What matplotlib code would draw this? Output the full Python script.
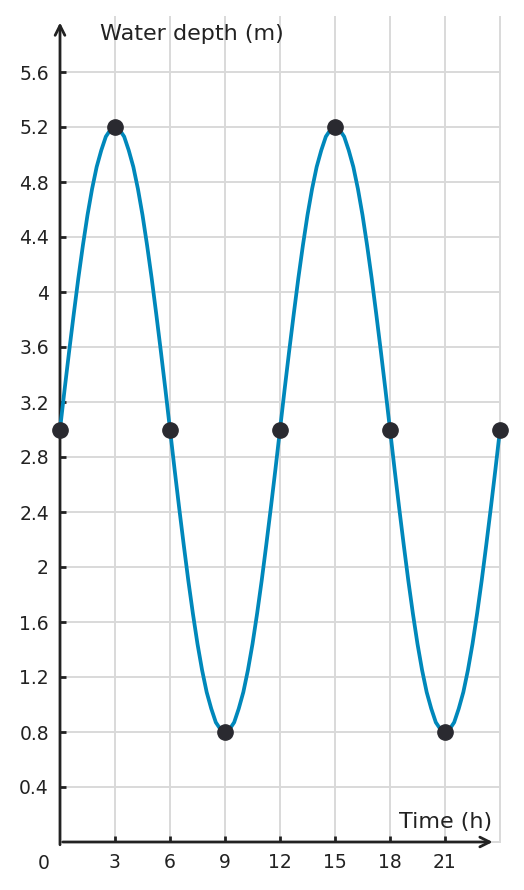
import matplotlib.pyplot as plt

# water depth every quarter hour
t_curve = [i * 0.25 for i in range(97)]
depth_curve = [3.0, 3.29, 3.57, 3.84, 4.10, 4.34, 4.56, 4.75, 4.91, 5.03, 5.13, 5.18,
               5.2, 5.18, 5.13, 5.03, 4.91, 4.75, 4.56, 4.34, 4.10, 3.84, 3.57, 3.29,
               3.0, 2.71, 2.43, 2.16, 1.90, 1.66, 1.44, 1.25, 1.09, 0.97, 0.87, 0.82,
               0.8, 0.82, 0.87, 0.97, 1.09, 1.25, 1.44, 1.66, 1.90, 2.16, 2.43, 2.71,
               3.0, 3.29, 3.57, 3.84, 4.10, 4.34, 4.56, 4.75, 4.91, 5.03, 5.13, 5.18,
               5.2, 5.18, 5.13, 5.03, 4.91, 4.75, 4.56, 4.34, 4.10, 3.84, 3.57, 3.29,
               3.0, 2.71, 2.43, 2.16, 1.90, 1.66, 1.44, 1.25, 1.09, 0.97, 0.87, 0.82,
               0.8, 0.82, 0.87, 0.97, 1.09, 1.25, 1.44, 1.66, 1.90, 2.16, 2.43, 2.71,
               3.0]

# marked points
t_points = [0, 3, 6, 9, 12, 15, 18, 21, 24]
depth_points = [3.0, 5.2, 3.0, 0.8, 3.0, 5.2, 3.0, 0.8, 3.0]

x_ticks = [3, 6, 9, 12, 15, 18, 21]
y_ticks = [0.4, 0.8, 1.2, 1.6, 2, 2.4, 2.8, 3.2, 3.6, 4, 4.4, 4.8, 5.2, 5.6]
y_labels = ["0.4", "0.8", "1.2", "1.6", "2", "2.4", "2.8", "3.2", "3.6", "4", "4.4", "4.8", "5.2", "5.6"]

txt = "#222222"
fig = plt.figure(figsize=(5.24, 8.9), dpi=100)
ax = fig.add_axes([60/524, 48/890, 440/524, 825/890])
ax.set_xlim(0, 24)
ax.set_ylim(0, 6)

# grid
for x in x_ticks + [24]:
    ax.plot([x, x], [0, 6], color="#d9d9d9", lw=1.4, zorder=0, clip_on=False)
for y in y_ticks + [0]:
    ax.plot([0, 24], [y, y], color="#d9d9d9", lw=1.4, zorder=0, clip_on=False)

for s in ax.spines.values():
    s.set_visible(False)

# axes with arrows
ax.annotate("", xy=(23.6, 0), xytext=(0.15, 0),
            arrowprops=dict(arrowstyle="->,head_length=0.7,head_width=0.35", lw=2, color=txt, shrinkA=0, shrinkB=0),
            annotation_clip=False)
ax.annotate("", xy=(0, 5.96), xytext=(0, -0.02),
            arrowprops=dict(arrowstyle="->,head_length=0.7,head_width=0.35", lw=2, color=txt, shrinkA=0, shrinkB=0),
            annotation_clip=False)

ax.set_xticks(x_ticks)
ax.set_yticks(y_ticks)
ax.set_yticklabels(y_labels)
ax.tick_params(axis="both", direction="in", length=4, width=2, colors=txt, labelsize=13.5, labelcolor=txt)
ax.tick_params(axis="x", pad=8)
ax.tick_params(axis="y", pad=8)
ax.text(-0.9, -0.09, "0", ha="center", va="top", fontsize=13.5, color=txt)

ax.text(2.2, 5.8, "Water depth (m)", fontsize=16, color=txt, va="bottom")
ax.text(23.55, 0.07, "Time (h)", fontsize=16, color=txt, ha="right", va="bottom")

ax.plot(t_curve, depth_curve, color="#0088bb", lw=2.7, solid_joinstyle="round", zorder=3, clip_on=False)
ax.plot(t_points, depth_points, "o", color="#2a2a30", ms=11, zorder=4, clip_on=False)

fig.savefig("out.png", dpi=100)
